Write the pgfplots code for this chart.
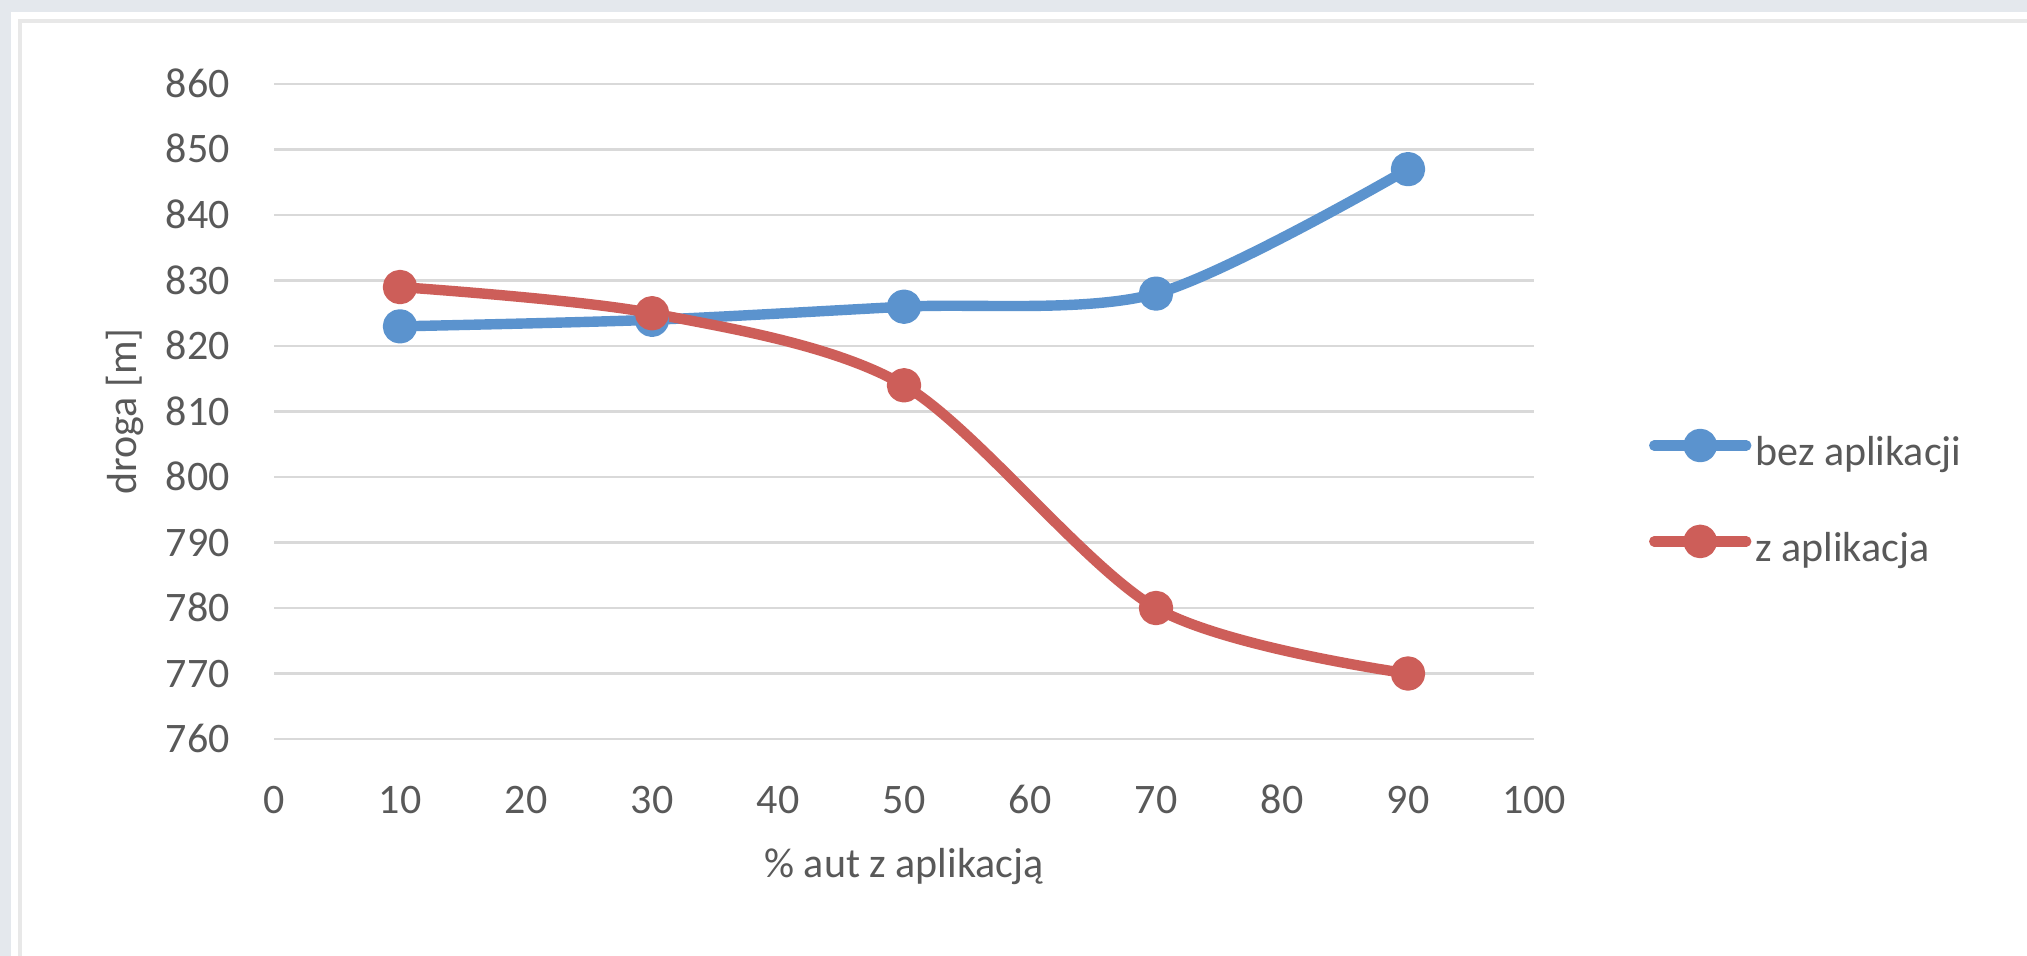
\documentclass[border=0pt]{standalone}
\usepackage{fontspec}
\setmainfont{Carlito}
\usepackage{pgfplots}
\pgfplotsset{compat=1.18}
\definecolor{bgc}{RGB}{228,232,237}
\definecolor{brd}{RGB}{232,232,232}
\definecolor{grd}{RGB}{217,217,217}
\definecolor{txt}{RGB}{89,89,89}
\definecolor{sblue}{RGB}{91,147,206}
\definecolor{sred}{RGB}{205,94,89}
\begin{document}
\begin{tikzpicture}
\useasboundingbox (0,0) rectangle (1013.5pt,-478pt);
\fill[bgc] (0,0) rectangle (1013.5pt,-478pt);
\fill[white] (5.5pt,-6pt) rectangle (1013.5pt,-478pt);
\draw[brd, line width=2pt] (9.75pt,-478pt) -- (9.75pt,-10.75pt) -- (1013.5pt,-10.75pt);
\begin{axis}[
  at={(137pt,-369.5pt)}, anchor=south west,
  width=630pt, height=327.5pt, scale only axis,
  xmin=0, xmax=100, ymin=760, ymax=860,
  xtick={0,10,...,100}, ytick={760,770,...,860},
  axis line style={draw=none}, major tick length=0pt,
  ymajorgrids, grid style={grd, line width=1.3pt},
  /pgf/number format/assume math mode=true,
  tick label style={font=\fontsize{21}{25}\selectfont, text=txt, inner sep=0pt},
  xticklabel style={anchor=base, yshift=-37pt},
  yticklabel style={anchor=base east, xshift=-22pt, yshift=-6.75pt},
  xlabel={\% aut z aplikacją}, ylabel={droga [m]},
  label style={font=\fontsize{21}{25}\selectfont, text=txt, inner sep=0pt},
  xlabel style={at={(axis description cs:0.5,-0.211)}, anchor=base},
  ylabel style={at={(axis description cs:-0.1183,0.5)}, anchor=center},
  legend style={at={(axis description cs:1.0913,0.367)}, anchor=west,
    draw=none, fill=none, inner sep=0pt, outer sep=0pt,
    row sep=26pt, column sep=0pt,
    font=\fontsize{21}{25}\selectfont, text=txt,
    cells={inner sep=0pt, anchor=west}},
  legend image code/.code={%
    \draw[#1, line cap=round] (0pt,3.5pt) -- (46pt,3.5pt);
    \fill[#1] (23pt,3.5pt) circle (5.8pt);},
]
\addplot[sblue, line width=5.2pt, line cap=round, line join=round, smooth,
  mark=*, mark size=6pt, mark options={fill=sblue, draw=none}]
  coordinates {(10,823)(30,824)(50,826)(70,828)(90,847)};
\addlegendentry{bez aplikacji}
\addplot[sred, line width=5.2pt, line cap=round, line join=round, smooth,
  mark=*, mark size=6pt, mark options={fill=sred, draw=none}]
  coordinates {(10,829)(30,825)(50,814)(70,780)(90,770)};
\addlegendentry{z aplikacja}
\end{axis}
\end{tikzpicture}
\end{document}
